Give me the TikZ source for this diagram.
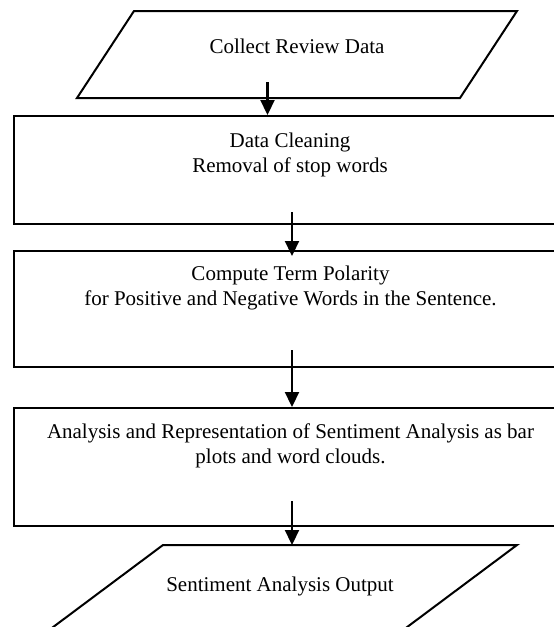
\documentclass[tikz,border=0pt]{standalone}
\usepackage{fontspec}
\setmainfont{Liberation Serif}
\usetikzlibrary{arrows.meta}
\begin{document}
\begin{tikzpicture}[x=1pt,y=-1pt,
  shapeline/.style={draw=black,line width=2pt},
  boxnode/.style={shapeline,rectangle,inner sep=0pt,minimum width=557pt},
  txt/.style={font=\fontsize{21}{25}\selectfont,align=center,inner sep=0pt},
  flowarrow/.style={line width=2.2pt,-{Triangle[width=14pt,length=15pt]}}]
\useasboundingbox (0,0) rectangle (554,627);
\clip (0,0) rectangle (554,627);
% top parallelogram
\draw[shapeline] (77,98) -- (134,11) -- (517,11) -- (460,98) -- cycle;
\node[txt] (t0) at (297,46) {Collect Review Data};
% boxes
\node[boxnode,minimum height=108pt] (box1) at (292,170) {};
\node[txt] (t1) at (290,155) {Data Cleaning\\Removal of stop words};
\node[boxnode,minimum height=116pt] (box2) at (292,309) {};
\node[txt] (t2) at (290.5,288) {Compute Term Polarity\\for Positive and Negative Words in the Sentence.};
\node[boxnode,minimum height=118pt] (box3) at (292,467) {};
\node[txt] (t3) at (290.5,446) {Analysis and Representation of Sentiment Analysis as bar\\plots and word clouds.};
% bottom parallelogram
\draw[shapeline] (9,660) -- (163,545) -- (517,545) -- (363,660);
\node[txt] (t4) at (280,586) {Sentiment Analysis Output};
\coordinate (bottomtop) at (292,545);
% arrows
\coordinate (s1) at (267.5,82);
\coordinate (s2) at (292,212);
\coordinate (s3) at (292,350);
\coordinate (s4) at (292,501);
\draw[flowarrow] (s1) -- (s1 |- box1.north);
\draw[flowarrow,shorten >=-6pt] (s2) -- (s2 |- box2.north);
\draw[flowarrow] (s3) -- (s3 |- box3.north);
\draw[flowarrow] (s4) -- (bottomtop);
\end{tikzpicture}
\end{document}
